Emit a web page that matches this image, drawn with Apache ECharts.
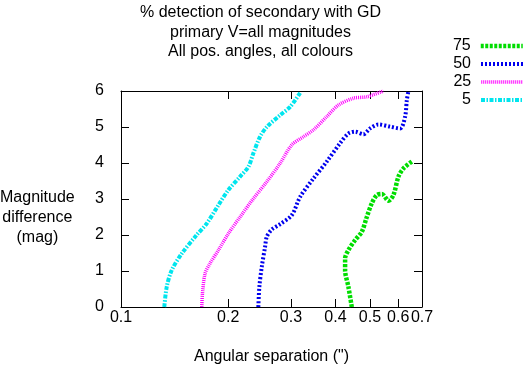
<!DOCTYPE html>
<html>
<head>
<meta charset="utf-8">
<script src="https://cdn.jsdelivr.net/npm/echarts@6/dist/echarts.min.js"></script>
<style>
  html, body { margin: 0; padding: 0; background: #fff; }
  #main { width: 531px; height: 372px; }
</style>
</head>
<body>
<div id="main"></div>
<script>
// angular separation (") / magnitude difference pairs for each detection level
const sep75 = [0.4446, 0.4350, 0.4258, 0.4258, 0.4350, 0.4543, 0.4744, 0.4899, 0.5060, 0.5229, 0.5400, 0.5636, 0.5820, 0.6010, 0.6207, 0.6555];
const mag75 = [0, 0.56, 1.02, 1.35, 1.58, 1.86, 2.09, 2.5, 2.88, 3.11, 3.14, 2.95, 3.11, 3.62, 3.85, 4.04];

const sep50 = [0.2430, 0.2446, 0.2484, 0.2538, 0.2566, 0.2650, 0.2797, 0.3016, 0.3184, 0.3470, 0.3783, 0.4122, 0.4350, 0.4543, 0.4793, 0.5004, 0.5281, 0.5695, 0.6077, 0.6277, 0.6346, 0.6414];
const mag50 = [0, 0.56, 1.11, 1.67, 1.95, 2.15, 2.3, 2.55, 3.06, 3.57, 4.04, 4.55, 4.82, 4.87, 4.8, 4.96, 5.07, 5.01, 4.96, 5.29, 5.75, 6.0];

const sep25 = [0.1686, 0.1693, 0.1722, 0.1778, 0.1877, 0.2002, 0.2159, 0.2353, 0.2566, 0.2797, 0.3016, 0.3252, 0.3470, 0.3783, 0.4078, 0.4494, 0.4899, 0.5456];
const mag25 = [0, 0.37, 0.93, 1.21, 1.58, 2.04, 2.5, 3.01, 3.48, 3.99, 4.5, 4.73, 4.92, 5.29, 5.61, 5.8, 5.84, 6.0];

const sep5 = [0.1323, 0.1344, 0.1388, 0.1480, 0.1631, 0.1741, 0.1877, 0.2002, 0.2159, 0.2280, 0.2353, 0.2457, 0.2566, 0.2797, 0.2984, 0.3184];
const mag5 = [0, 0.56, 1.02, 1.48, 2.0, 2.32, 2.83, 3.25, 3.62, 3.9, 4.27, 4.73, 5.0, 5.33, 5.56, 5.95];

const xTicks = [0.1, 0.2, 0.3, 0.4, 0.5, 0.6, 0.7];
const levels = ['75', '50', '25', '5'];

const font = 'Liberation Sans, Arial, sans-serif';
const pairs = (xs, ys) => xs.map((x, i) => [x, ys[i]]);

const chart = echarts.init(document.getElementById('main'));

const xBase = {
  type: 'log',
  logBase: 10,
  min: 0.1,
  max: 0.7,
  splitLine: { show: false },
  minorTick: { show: false },
  axisLine: { show: true, onZero: false, lineStyle: { color: '#000', width: 1 } },
  axisTick: { show: true, inside: true, length: 8, customValues: xTicks, lineStyle: { color: '#000' } }
};
const yBase = {
  type: 'value',
  min: 0,
  max: 6,
  interval: 1,
  splitLine: { show: false },
  axisLine: { show: true, onZero: false, lineStyle: { color: '#000', width: 1 } },
  axisTick: { show: true, inside: true, length: 8, lineStyle: { color: '#000' } }
};

const lineSeries = (name, data, color, width, dash) => ({
  name: name,
  type: 'line',
  data: data,
  symbol: 'none',
  smooth: 0.3,
  lineStyle: { color: color, width: width, type: dash, cap: 'butt' },
  itemStyle: { color: color }
});

const legendRow = (name, top, width) => ({
  data: [name],
  orient: 'vertical',
  right: 6,
  top: top,
  padding: 0,
  align: 'right',
  itemWidth: 42,
  itemHeight: 14,
  itemStyle: { opacity: 0 },
  lineStyle: { width: width },
  textStyle: { fontFamily: font, fontSize: 16, color: '#000', padding: [0, 5, 0, 0] }
});

chart.setOption({
  animation: false,
  grid: { left: 121, right: 109, top: 91, bottom: 65 },
  xAxis: [
    Object.assign({}, xBase, {
      position: 'bottom',
      name: 'Angular separation (")',
      nameLocation: 'middle',
      nameGap: 42,
      nameTextStyle: { fontFamily: font, fontSize: 16, color: '#000' },
      axisLabel: {
        show: true, margin: 3, customValues: xTicks, hideOverlap: false,
        fontFamily: font, fontSize: 16, color: '#000',
        formatter: v => String(+v.toFixed(1))
      }
    }),
    Object.assign({}, xBase, { position: 'top', axisLabel: { show: false } })
  ],
  yAxis: [
    Object.assign({}, yBase, {
      position: 'left',
      axisLabel: { show: true, margin: 17, fontFamily: font, fontSize: 16, color: '#000' }
    }),
    Object.assign({}, yBase, { position: 'right', axisLabel: { show: false } })
  ],
  legend: [
    legendRow(levels[0], 38, 4.5),
    legendRow(levels[1], 56, 4),
    legendRow(levels[2], 74, 3.5),
    legendRow(levels[3], 92, 4)
  ],
  graphic: [
    {
      type: 'text', left: 270 - 130, top: 3,
      style: {
        text: '% detection of secondary with GD\nprimary V=all magnitudes\nAll pos. angles, all colours',
        x: 130, textAlign: 'center', font: '16px ' + font, lineHeight: 19.5, fill: '#000'
      }
    },
    {
      type: 'text', left: 0, top: 188,
      style: {
        text: 'Magnitude\ndifference\n(mag)',
        x: 48, textAlign: 'center', font: '16px ' + font, lineHeight: 20, fill: '#000'
      }
    }
  ],
  series: [
    lineSeries(levels[0], pairs(sep75, mag75), '#00dd00', 4.5, [3, 1.5]),
    lineSeries(levels[1], pairs(sep50, mag50), '#0000ee', 4, [2, 2]),
    lineSeries(levels[2], pairs(sep25, mag25), '#ff00ff', 3.5, [1, 1]),
    lineSeries(levels[3], pairs(sep5, mag5), '#00e5ee', 4, [4, 1.5, 1.5, 1.5])
  ]
});
</script>
</body>
</html>
